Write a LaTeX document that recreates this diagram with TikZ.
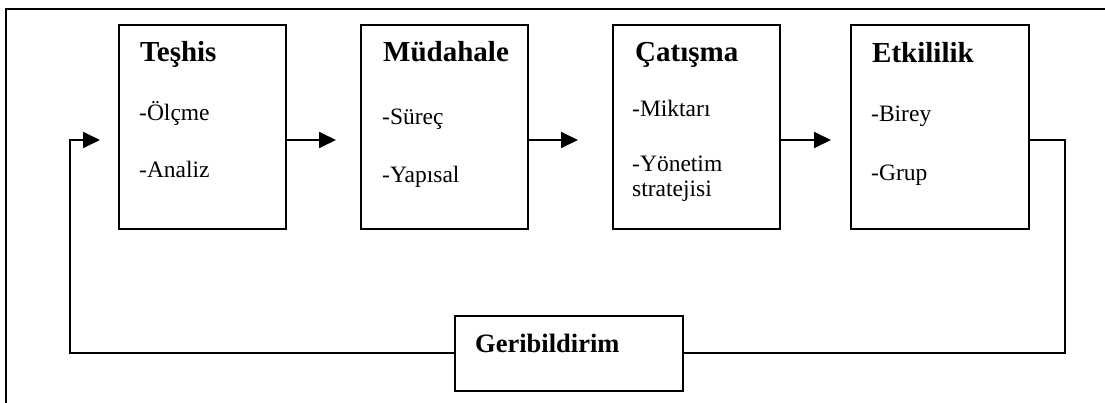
\documentclass[tikz,border=0pt]{standalone}
\usepackage{fontspec}
\setmainfont{Liberation Serif}
\newfontfamily\bodyfont{Liberation Serif}
\usetikzlibrary{arrows.meta}
\tikzset{
  box/.style={draw, line width=1.8pt, rectangle, anchor=north west, inner sep=0pt, minimum height=204pt},
  ttl/.style={anchor=base west, inner sep=0pt, font=\bfseries\fontsize{29}{31}\selectfont},
  itm/.style={anchor=base west, inner sep=0pt, font=\bodyfont\fontsize{23.5}{25}\selectfont},
  conn/.style={line width=1.8pt},
  arr/.style={line width=1.8pt, -{Triangle[length=17pt,width=16pt]}},
}
\begin{document}
\begin{tikzpicture}[x=1pt,y=-1pt]
\useasboundingbox (0,0) rectangle (1105,403);
% outer frame (cropped)
\draw[conn] (6,403) -- (6,9) -- (1105,9);

% boxes
\node[box, minimum width=167pt] (t) at (118,24) {};
\node[box, minimum width=167pt] (m) at (360,24) {};
\node[box, minimum width=167pt] (c) at (612,24) {};
\node[box, minimum width=178pt] (e) at (850,24) {};
\node[box, minimum width=228pt, minimum height=75pt] (g) at (454,315) {};

% texts
\node[ttl] (tT) at (140,62) {Teşhis};
\node[itm] (t1) at (139,121) {-Ölçme};
\node[itm] (t2) at (139,178) {-Analiz};

\node[ttl] (mT) at (383,62) {Müdahale};
\node[itm] (m1) at (382,125) {-Süreç};
\node[itm] (m2) at (382,183) {-Yapısal};

\node[ttl] (cT) at (635,62) {Çatışma};
\node[itm] (c1) at (632,117) {-Miktarı};
\node[itm] (c2) at (632,172) {-Yönetim};
\node[itm] (c3) at (632,197) {stratejisi};

\node[ttl] (eT) at (872,63) {Etkililik};
\node[itm] (e1) at (871,122) {-Birey};
\node[itm] (e2) at (871,181) {-Grup};

\node[ttl, font=\bfseries\fontsize{26.5}{28}\selectfont] (gT) at (475,352) {Geribildirim};

% arrow ends
\coordinate (a0) at (100,140);
\coordinate (a1) at (336,140);
\coordinate (a2) at (578,140);
\coordinate (a3) at (831,140);
\coordinate (fr) at (1065,353);
\coordinate (fl) at (70,353);

\draw[arr] (t.east |- a1) -- (a1);
\draw[arr] (m.east |- a2) -- (a2);
\draw[arr] (c.east |- a3) -- (a3);

% feedback loop
\draw[conn] (e.east |- a3) -| (fr) -- (g.east |- fr);
\draw[arr] (g.west |- fl) -- (fl) |- (a0);
\end{tikzpicture}
\end{document}
